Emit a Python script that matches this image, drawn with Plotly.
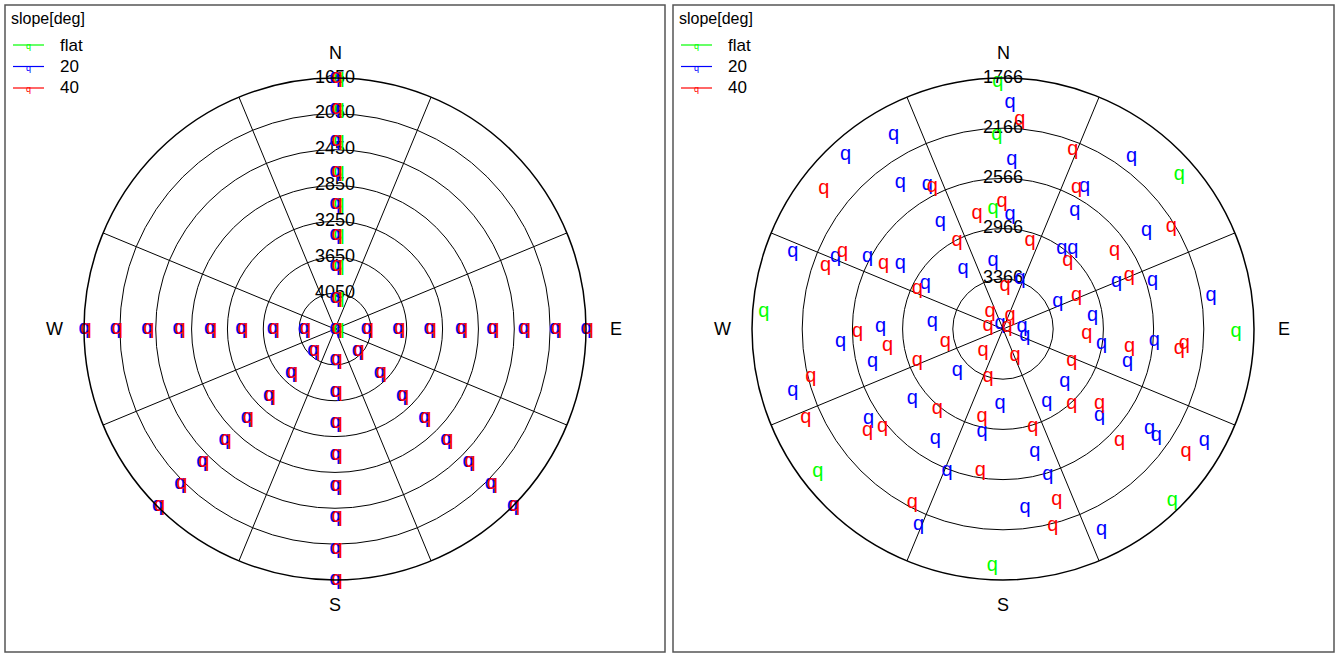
import plotly.graph_objects as go

W, H = 1336, 654
FONT = "Liberation Sans"

# ---------------- data ----------------
SERIES = ["flat", "20", "40"]
COLORS = ["#00ff00", "#0000ff", "#ff0000"]

# left panel: radial axis (reversed, centre = 4450)
L_RANGE = [4450, 1650]
L_TICKS = [1650, 2050, 2450, 2850, 3250, 3650, 4050]
L_DIRS_FLAT = [0]
L_DIRS_SLOPE = [0, 90, 135, 180, 225, 270]
L_VALS = [1650, 2000, 2350, 2700, 3050, 3400, 3750, 4100]
L_CENTER = 4450

# right panel: radial axis (reversed, centre = 3766)
R_RANGE = [3766, 1766]
R_TICKS = [1766, 2166, 2566, 2966, 3366]

R_FLAT_THETA = [358.8, 358.2, 355.2, 48.8, 274.0, 90.7, 232.4, 182.6, 135.5]
R_FLAT_R = [1798, 2218, 2810, 1899, 1856, 1909, 1904, 1875, 1841]

R_20_THETA = [1.8, 3.0, 36.7, 330.6, 317.9, 325.0, 332.3, 29.8, 55.8, 3.5,
              31.4, 329.5, 36.4, 41.2, 351.6, 326.3, 18.8, 300.0, 63.9, 275.6,
              329.0, 84.0, 290.0, 293.2, 297.9, 302.2, 67.6, 72.3, 81.0, 81.8,
              265.4, 270.9, 255.9, 253.6, 232.4, 236.3, 203.3, 107.6, 227.6, 130.5,
              182.3, 148.9, 191.5, 211.7, 165.4, 201.4, 163.0, 173.0, 98.6, 104.8,
              94.5, 131.9, 124.2, 124.8, 119.2, 153.9]
R_20_R = [1964, 2415, 2053, 1989, 1895, 2341, 2467, 2458, 2383, 2852,
          2669, 2780, 2977, 2922, 3221, 3194, 3347, 3052, 3280, 3200,
          3720, 3614, 1983, 2315, 2545, 2799, 2787, 2516, 2087, 3044,
          2468, 2790, 2694, 2021, 2855, 2478, 2063, 3583, 3272, 3119,
          3170, 3090, 2932, 2740, 2757, 2547, 2546, 2327, 2971, 2740,
          2556, 2732, 2355, 2278, 1929, 1980]

R_40_THETA = [4.6, 21.3, 307.9, 333.6, 27.5, 58.9, 359.6, 347.3, 332.4, 17.1,
              43.7, 55.1, 67.3, 2.7, 294.9, 65.9, 322.6, 28.3, 281.3, 63.4,
              289.5, 295.6, 298.4, 268.8, 261.7, 249.6, 256.0, 245.6, 233.1, 231.0,
              207.5, 257.4, 222.3, 156.0, 93.4, 197.4, 114.9, 137.4, 219.5, 193.4,
              163.0, 189.1, 162.6, 165.8, 98.1, 96.4, 94.7, 127.7, 133.7, 123.8]
R_40_R = [2094, 2233, 1956, 2499, 2495, 2199, 2750, 2830, 2978, 3036,
          3019, 2683, 2674, 3425, 3013, 3123, 3596, 3649, 3645, 3730,
          2267, 2349, 2683, 2607, 2836, 3038, 2187, 2040, 2417, 2530,
          2201, 3294, 3530, 3532, 3098, 3367, 3162, 2957, 2943, 3048,
          2952, 2617, 2335, 2145, 2748, 2352, 2317, 2793, 2480, 2010]

SPOKES = [22.5, 67.5, 112.5, 157.5, 202.5, 247.5, 292.5, 337.5]
COMPASS = ["N", "E", "S", "W"]

# ---------------- figure ----------------
fig = go.Figure()


def grid_points(dirs, vals, center):
    th, rr = [], []
    for d in dirs:
        for v in vals:
            th.append(d)
            rr.append(v)
    th.append(0)
    rr.append(center)
    return th, rr


def add_labels(subplot, ticks):
    fig.add_trace(go.Scatterpolar(
        theta=[0] * len(ticks), r=ticks, text=[str(t) for t in ticks],
        mode="text", textposition="middle center", cliponaxis=False,
        textfont=dict(family=FONT, size=18, color="black"),
        showlegend=False, hoverinfo="skip", subplot=subplot))


def add_q(subplot, theta, r, color, shift=""):
    fig.add_trace(go.Scatterpolar(
        theta=theta, r=r, mode="text", text=[shift + "q"] * len(r),
        textposition="middle center", cliponaxis=False,
        textfont=dict(family=FONT, size=20, color=color),
        showlegend=False, subplot=subplot))


# left panel
add_labels("polar", L_TICKS)
th, rr = grid_points(L_DIRS_FLAT, L_VALS, L_CENTER)
add_q("polar", th, rr, COLORS[0], "\u2009\u2009")
th, rr = grid_points(L_DIRS_SLOPE, L_VALS, L_CENTER)
add_q("polar", th, rr, COLORS[1])
add_q("polar", th, rr, COLORS[2], "\u2009")

# right panel
add_labels("polar2", R_TICKS)
add_q("polar2", R_FLAT_THETA, R_FLAT_R, COLORS[0])
add_q("polar2", R_20_THETA, R_20_R, COLORS[1])
add_q("polar2", R_40_THETA, R_40_R, COLORS[2])


def polar_cfg(cx, cy, rad, rng, ticks):
    return dict(
        domain=dict(x=[(cx - rad) / W, (cx + rad) / W],
                    y=[(H - cy - rad) / H, (H - cy + rad) / H]),
        bgcolor="white",
        radialaxis=dict(range=rng, tickmode="array", tickvals=ticks[1:],
                        showticklabels=False, ticks="", showline=False,
                        showgrid=True, gridcolor="black", gridwidth=1),
        angularaxis=dict(rotation=90, direction="clockwise", tickmode="array",
                         tickvals=SPOKES, showticklabels=False, ticks="",
                         showgrid=True, gridcolor="black", gridwidth=1,
                         showline=True, linecolor="black", linewidth=1.5),
    )


PANELS = [
    dict(x0=5, x1=665, cx=335, cy=329),
    dict(x0=673, x1=1334, cx=1003, cy=329),
]
RAD = 251

layout = dict(
    width=W, height=H, margin=dict(l=0, r=0, t=0, b=0),
    paper_bgcolor="white", plot_bgcolor="white", showlegend=False,
    font=dict(family=FONT, color="black"),
    polar=polar_cfg(PANELS[0]["cx"], PANELS[0]["cy"], RAD, L_RANGE, L_TICKS),
    polar2=polar_cfg(PANELS[1]["cx"], PANELS[1]["cy"], RAD, R_RANGE, R_TICKS),
)

shapes, annotations = [], []


def px(x):
    return x / W


def py(y):
    return 1 - y / H


for p in PANELS:
    shapes.append(dict(type="rect", xref="paper", yref="paper",
                       x0=px(p["x0"]), x1=px(p["x1"]), y0=py(652), y1=py(5),
                       line=dict(color="#555555", width=1.5)))
    ox = p["x0"]
    annotations.append(dict(x=px(ox + 4), y=py(18), xref="paper", yref="paper",
                            text="slope[deg]", showarrow=False, xanchor="left",
                            yanchor="middle", font=dict(size=16, family=FONT)))
    for i, (name, col) in enumerate(zip(SERIES, COLORS)):
        yy = 45 + i * 21.5
        shapes.append(dict(type="line", xref="paper", yref="paper",
                           x0=px(ox + 8), x1=px(ox + 39), y0=py(yy), y1=py(yy),
                           line=dict(color=col, width=1.2)))
        annotations.append(dict(x=px(ox + 23.5), y=py(yy + 1), xref="paper", yref="paper",
                                text="q", showarrow=False, xanchor="center",
                                yanchor="middle", font=dict(size=9, color=col, family=FONT)))
        annotations.append(dict(x=px(ox + 53), y=py(yy), xref="paper", yref="paper",
                                text=name, showarrow=False, xanchor="left",
                                yanchor="middle", font=dict(size=17, family=FONT)))
    cx, cy = p["cx"], p["cy"]
    offs = [(0, -276), (281, 0), (0, 276), (-281, 0)]
    for lab, (dx, dy) in zip(COMPASS, offs):
        annotations.append(dict(x=px(cx + dx), y=py(cy + dy), xref="paper", yref="paper",
                                text=lab, showarrow=False, xanchor="center",
                                yanchor="middle", font=dict(size=18, family=FONT)))

layout["shapes"] = shapes
layout["annotations"] = annotations
fig.update_layout(**layout)

fig.write_html("out.html", config={"displayModeBar": False},
               post_script="document.body.style.margin='0';")
